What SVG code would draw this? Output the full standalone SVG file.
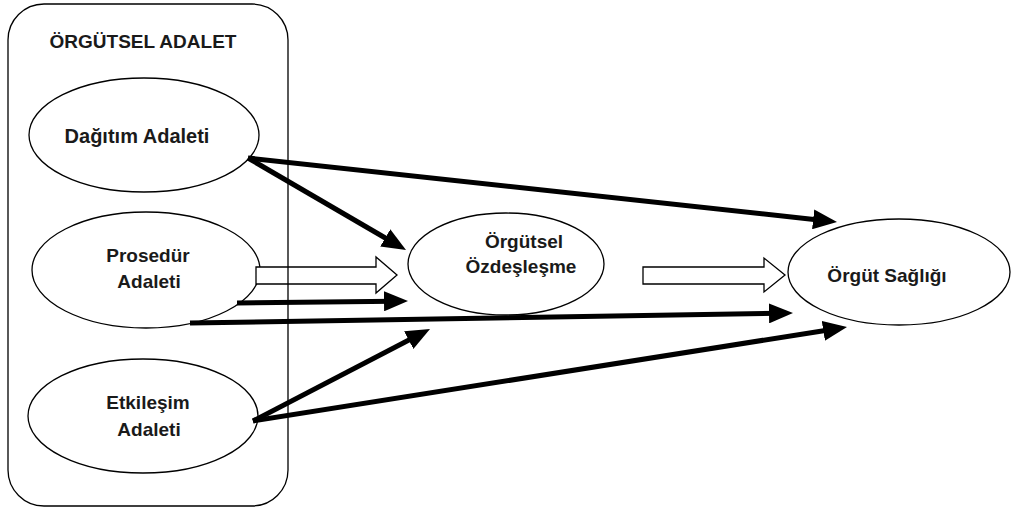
<svg xmlns="http://www.w3.org/2000/svg" width="1013" height="510" viewBox="0 0 1013 510">
<style>
.node{fill:#fff;stroke:#000;stroke-width:1.3}
.lbl{font-family:"Liberation Sans",Arial,sans-serif;font-weight:bold;font-size:19px;fill:#1a1a1a;text-anchor:middle}
.arr{stroke:#000;stroke-width:5;fill:none;marker-end:url(#ah)}
.hollow{fill:#fff;stroke:#000;stroke-width:1.3}
</style>
<defs>
<marker id="ah" markerUnits="userSpaceOnUse" markerWidth="24" markerHeight="20" refX="10" refY="10" orient="auto">
<path d="M0,0 L24,10 L0,20 Z" fill="#000"/>
</marker>
</defs>
<rect width="1013" height="510" fill="#fff"/>
<g id="dagitim">
<ellipse class="node" cx="144" cy="135" rx="115" ry="57"/>
<text class="lbl" x="137" y="143" style="font-size:20px">Dağıtım Adaleti</text>
</g>
<g id="prosedur">
<ellipse class="node" cx="146" cy="270" rx="114" ry="58"/>
<text class="lbl" x="148" y="262">Prosedür</text>
<text class="lbl" x="149" y="288">Adaleti</text>
</g>
<g id="etkilesim">
<ellipse class="node" cx="143" cy="416" rx="115" ry="57"/>
<text class="lbl" x="148" y="409">Etkileşim</text>
<text class="lbl" x="149" y="436">Adaleti</text>
</g>
<g id="ozdeslesme">
<ellipse class="node" cx="506" cy="264" rx="98" ry="51"/>
<text class="lbl" x="524" y="248">Örgütsel</text>
<text class="lbl" x="521" y="273">Özdeşleşme</text>
</g>
<g id="saglik">
<ellipse class="node" cx="899" cy="272" rx="111" ry="53"/>
<text class="lbl" x="887" y="282">Örgüt Sağlığı</text>
</g>
<g id="connectors">
<line class="arr" x1="248" y1="158" x2="823.1" y2="220.5"/>
<line class="arr" x1="248" y1="158" x2="393.9" y2="243"/>
<line class="arr" x1="237" y1="303" x2="394" y2="301.2"/>
<line class="arr" x1="190" y1="323" x2="779" y2="313.2"/>
<line class="arr" x1="253" y1="421" x2="417.6" y2="335.5"/>
<line class="arr" x1="253" y1="421" x2="833.2" y2="329.2"/>
<polygon class="hollow" points="256,267 376,267 376,257 397,275 376,293 376,284 256,284"/>
<polygon class="hollow" points="643,267 764,267 764,258 785,275 764,292 764,284 643,284"/>
</g>
<g id="orgutsel-adalet">
<rect x="8" y="4" width="280" height="502" rx="36" ry="36" fill="none" stroke="#000" stroke-width="1.3"/>
<text class="lbl" x="143" y="48">ÖRGÜTSEL ADALET</text>
</g>
</svg>
